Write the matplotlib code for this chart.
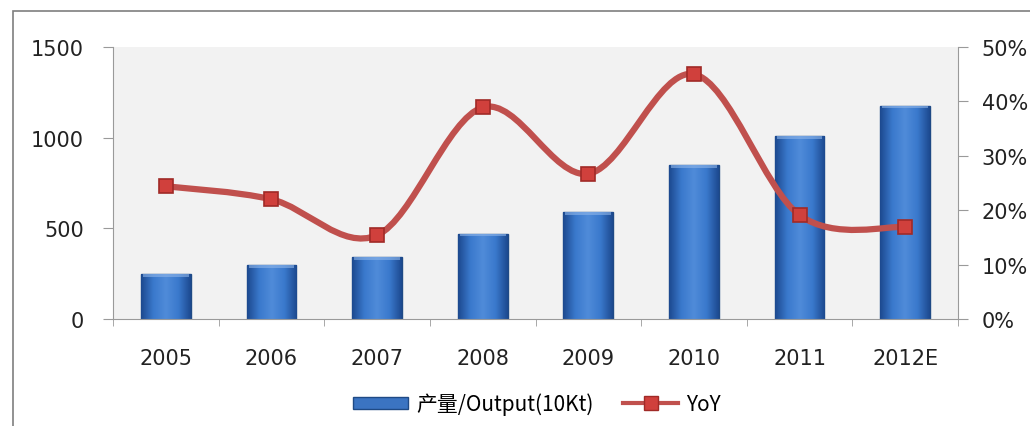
import numpy as np
import matplotlib
matplotlib.use("Agg")
import matplotlib.pyplot as plt
from matplotlib.path import Path
from matplotlib.patches import PathPatch, Rectangle
from matplotlib.lines import Line2D

# chart data
years = ["2005", "2006", "2007", "2008", "2009", "2010", "2011", "2012E"]
output = [248, 298, 342, 469, 590, 849, 1009, 1175]
yoy = [24.4, 22.0, 15.4, 38.9, 26.7, 45.0, 19.1, 16.9]

left_ticks = [0, 500, 1000, 1500]
right_ticks = [0, 10, 20, 30, 40, 50]

fig = plt.figure(figsize=(10.3, 4.27), dpi=100)
fig.patch.set_facecolor("white")

# outer frame (only left and top edges visible in the crop)
fig.add_artist(Rectangle((13 / 1030, -0.1), 1.2, 1 - 12 / 427 + 0.1,
                         transform=fig.transFigure, fill=False,
                         edgecolor="#7f7f7f", linewidth=1.2))

ax = fig.add_axes([113 / 1030, 1 - 320 / 427, (958 - 113) / 1030, (320 - 48) / 427])
ax.set_facecolor("#f2f2f2")
x = np.arange(len(years))

# bars with horizontal gradient
bars = ax.bar(x, output, width=0.47, color="#3b74c2", edgecolor="#1f4a85",
              linewidth=1.0, zorder=2)
grad = np.linspace(0, 1, 64)
grad = 1 - np.abs(grad - 0.5) * 2
grad = np.vstack([grad, grad])
cmap = matplotlib.colors.LinearSegmentedColormap.from_list(
    "b", ["#1d4a90", "#3a79cc", "#4f8bd9"])
for b in bars:
    bx, by = b.get_x(), b.get_y()
    w, h = b.get_width(), b.get_height()
    im = ax.imshow(grad, extent=[bx, bx + w, by, by + h], aspect="auto",
                   cmap=cmap, zorder=2.5, origin="lower")
    im.set_clip_path(b)
    # top bevel highlight
    ax.add_patch(Rectangle((bx + w * 0.04, by + h - 14), w * 0.92, 12,
                           facecolor="#8fb6ea", edgecolor="none", alpha=0.6, zorder=2.6))

ax.set_xlim(-0.5, len(years) - 0.5)
ax.set_ylim(0, 1500)
ax.set_yticks(left_ticks)
ax.set_yticklabels([str(t) for t in left_ticks])
ax.set_xticks(x)
ax.set_xticklabels(years)
ax.set_xticks(np.arange(-0.5, len(years)), minor=True)
ax.tick_params(axis="x", which="major", length=0, pad=21, labelsize=15, colors="#222222")
ax.tick_params(axis="x", which="minor", length=5, color="#9a9a9a", direction="out")
ax.tick_params(axis="y", length=7, color="#9a9a9a", labelsize=15, labelcolor="#222222", pad=14)
for s in ["top", "right"]:
    ax.spines[s].set_visible(False)
for s in ["left", "bottom"]:
    ax.spines[s].set_color("#9a9a9a")

# secondary axis with smoothed YoY line
ax2 = ax.twinx()
ax2.set_ylim(0, 50)
ax2.set_yticks(right_ticks)
ax2.set_yticklabels([f"{t}%" for t in right_ticks])
ax2.tick_params(axis="y", length=7, color="#9a9a9a", labelsize=15, labelcolor="#222222", pad=10)
for s in ["top", "left", "bottom"]:
    ax2.spines[s].set_visible(False)
ax2.spines["right"].set_color("#9a9a9a")

pts = np.column_stack([x, yoy]).astype(float)
ext = np.vstack([pts[0], pts, pts[-1]])
verts = [tuple(pts[0])]
codes = [Path.MOVETO]
for i in range(len(pts) - 1):
    p0, p1, p2, p3 = ext[i], ext[i + 1], ext[i + 2], ext[i + 3]
    c1 = p1 + (p2 - p0) / 6
    c2 = p2 - (p3 - p1) / 6
    verts += [tuple(c1), tuple(c2), tuple(p2)]
    codes += [Path.CURVE4] * 3
ax2.add_patch(PathPatch(Path(verts, codes), fill=False, edgecolor="#c0504d",
                        linewidth=4.5, capstyle="round", zorder=3))
ax2.plot(x, yoy, linestyle="none", marker="s", markersize=10,
         markerfacecolor="#d0403c", markeredgecolor="#a02a27", markeredgewidth=1.2, zorder=4)

# legend
handles = [Rectangle((0, 0), 1, 1, facecolor="#3b74c2", edgecolor="#1f4a85"),
           Line2D([], [], color="#c0504d", linewidth=3, marker="s", markersize=10,
                  markerfacecolor="#d0403c", markeredgecolor="#a02a27")]
fig.legend(handles, ["产量/Output(10Kt)", "YoY"], loc="center",
           bbox_to_anchor=(537 / 1030, 1 - 405 / 427), ncol=2, frameon=False,
           prop={"family": ["Noto Sans CJK SC", "DejaVu Sans"], "size": 15},
           handlelength=2.6, handleheight=0.55, columnspacing=1.45, handletextpad=0.4)

fig.savefig("out.png", dpi=100)
